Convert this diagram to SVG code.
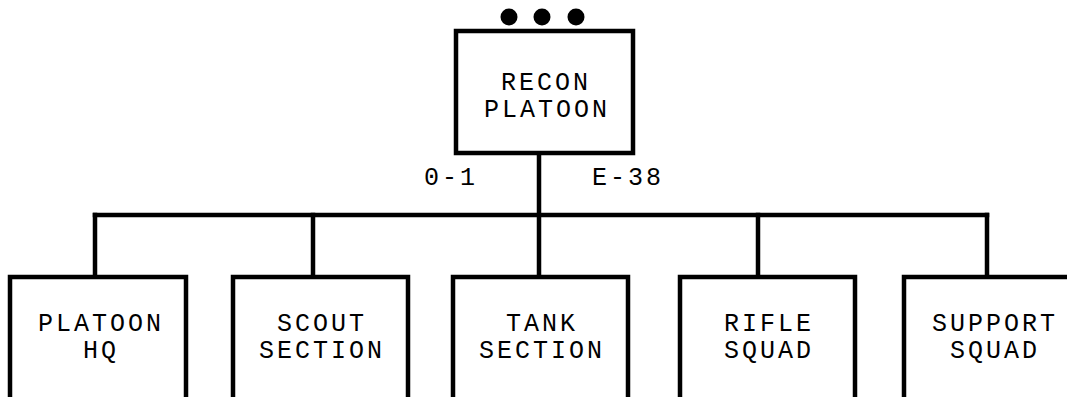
<svg xmlns="http://www.w3.org/2000/svg" width="1067" height="397" viewBox="0 0 1067 397">
<style>
.box{fill:#fff;stroke:#000;stroke-width:4.5}
.ln{fill:none;stroke:#000;stroke-width:4.5;stroke-linecap:square}
text{font-family:"Liberation Mono","Courier New",monospace;font-size:25px;letter-spacing:3px;fill:#000;text-anchor:middle}
.lbl{text-anchor:start}
</style>
<rect width="1067" height="397" fill="#fff"/>
<g id="connectors">
<line class="ln" x1="539" y1="153" x2="539" y2="277"/>
<line class="ln" x1="95" y1="215" x2="987" y2="215"/>
<line class="ln" x1="95" y1="215" x2="95" y2="277"/>
<line class="ln" x1="313" y1="215" x2="313" y2="277"/>
<line class="ln" x1="758" y1="215" x2="758" y2="277"/>
<line class="ln" x1="987" y1="215" x2="987" y2="277"/>
</g>
<g id="recon-platoon">
<circle cx="509" cy="17" r="8.5"/>
<circle cx="542" cy="17" r="8.5"/>
<circle cx="576" cy="17" r="8.5"/>
<rect class="box" x="456" y="31" width="177" height="122"/>
<text x="546" y="90">RECON</text>
<text x="547" y="117">PLATOON</text>
</g>
<g id="labels">
<text class="lbl" x="424" y="185">0-1</text>
<text class="lbl" x="592" y="185">E-38</text>
</g>
<g id="platoon-hq">
<rect class="box" x="10" y="277" width="176" height="140"/>
<text x="101" y="331">PLATOON</text>
<text x="101" y="358">HQ</text>
</g>
<g id="scout-section">
<rect class="box" x="233" y="277" width="175" height="140"/>
<text x="322" y="331">SCOUT</text>
<text x="322" y="358">SECTION</text>
</g>
<g id="tank-section">
<rect class="box" x="453" y="277" width="175" height="140"/>
<text x="542" y="331">TANK</text>
<text x="542" y="358">SECTION</text>
</g>
<g id="rifle-squad">
<rect class="box" x="680" y="277" width="175" height="140"/>
<text x="769" y="331">RIFLE</text>
<text x="769" y="358">SQUAD</text>
</g>
<g id="support-squad">
<rect class="box" x="904" y="277" width="176" height="140"/>
<text x="995" y="331">SUPPORT</text>
<text x="995" y="358">SQUAD</text>
</g>
</svg>
